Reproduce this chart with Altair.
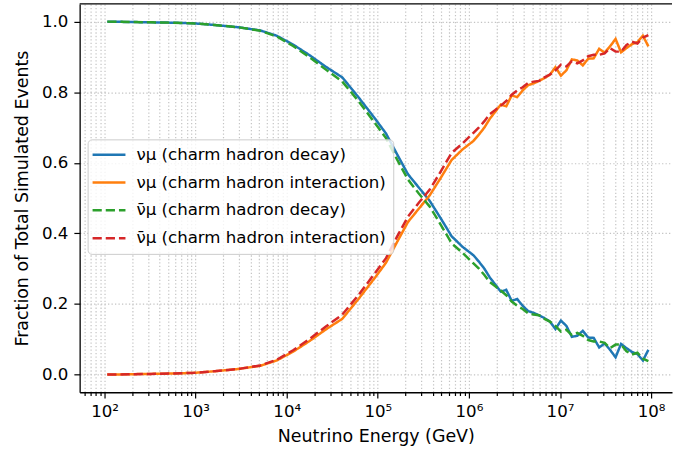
import altair as alt
import pandas as pd

# log10 of neutrino energy (GeV) at which the fractions are read
log_energy = [2.03, 2.27, 2.51, 2.75, 2.99, 3.23, 3.47, 3.71, 3.89, 4.07, 4.25, 4.43,
              4.61, 4.79, 4.97, 5.09, 5.21, 5.33, 5.45, 5.57, 5.69, 5.81, 5.93,
              6.05, 6.11, 6.17, 6.23, 6.29, 6.35, 6.41, 6.47, 6.53, 6.59, 6.65, 6.71,
              6.77, 6.83, 6.89, 6.95, 7.01, 7.07, 7.13, 7.19, 7.25, 7.31, 7.37, 7.43,
              7.49, 7.55, 7.61, 7.67, 7.73, 7.79, 7.85, 7.91, 7.97]

nu_decay = [1.000, 0.999, 0.998, 0.997, 0.995, 0.990, 0.984, 0.975, 0.960, 0.935, 0.905, 0.872,
            0.842, 0.785, 0.725, 0.683, 0.625, 0.568, 0.530, 0.492, 0.443, 0.392, 0.362,
            0.338, 0.320, 0.300, 0.275, 0.255, 0.235, 0.240, 0.209, 0.214, 0.195, 0.180, 0.175,
            0.168, 0.160, 0.150, 0.129, 0.153, 0.138, 0.107, 0.110, 0.124, 0.105, 0.104, 0.077,
            0.088, 0.070, 0.049, 0.087, 0.075, 0.064, 0.058, 0.040, 0.070]

nu_interaction = [0.000, 0.001, 0.002, 0.003, 0.005, 0.010, 0.016, 0.025, 0.040, 0.065, 0.095, 0.128,
                  0.158, 0.215, 0.275, 0.317, 0.375, 0.432, 0.470, 0.508, 0.557, 0.608, 0.638,
                  0.662, 0.680, 0.700, 0.725, 0.745, 0.765, 0.760, 0.791, 0.786, 0.805, 0.820, 0.825,
                  0.832, 0.840, 0.850, 0.871, 0.847, 0.862, 0.893, 0.890, 0.876, 0.895, 0.896, 0.923,
                  0.912, 0.930, 0.951, 0.913, 0.925, 0.936, 0.942, 0.960, 0.930]

nubar_decay = [1.000, 0.999, 0.998, 0.997, 0.995, 0.990, 0.984, 0.974, 0.958, 0.931, 0.899, 0.864,
               0.830, 0.774, 0.712, 0.670, 0.610, 0.553, 0.513, 0.476, 0.425, 0.372, 0.345,
               0.315, 0.300, 0.282, 0.262, 0.250, 0.238, 0.225, 0.207, 0.195, 0.186, 0.174, 0.170,
               0.168, 0.158, 0.150, 0.138, 0.122, 0.127, 0.112, 0.118, 0.110, 0.098, 0.094, 0.094,
               0.090, 0.075, 0.085, 0.085, 0.066, 0.057, 0.062, 0.045, 0.038]

nubar_interaction = [0.000, 0.001, 0.002, 0.003, 0.005, 0.010, 0.016, 0.026, 0.042, 0.069, 0.101, 0.136,
                     0.170, 0.226, 0.288, 0.330, 0.390, 0.447, 0.487, 0.524, 0.575, 0.628, 0.655,
                     0.685, 0.700, 0.718, 0.738, 0.750, 0.762, 0.775, 0.793, 0.805, 0.814, 0.826, 0.830,
                     0.832, 0.842, 0.850, 0.862, 0.878, 0.873, 0.888, 0.882, 0.890, 0.902, 0.906, 0.906,
                     0.910, 0.925, 0.915, 0.915, 0.934, 0.943, 0.938, 0.955, 0.962]

series_labels = ["νμ (charm hadron decay)", "νμ (charm hadron interaction)",
                 "ν̄μ (charm hadron decay)", "ν̄μ (charm hadron interaction)"]
series_colors = ["#1f77b4", "#ff7f0e", "#2ca02c", "#d62728"]
series_dashes = [[1, 0], [1, 0], [9.25, 4], [9.25, 4]]

y_ticks = [0.0, 0.2, 0.4, 0.6, 0.8, 1.0]
x_ticks = [60, 70, 80, 90] + [m * 10 ** e for e in range(2, 8) for m in range(1, 10)] + [10 ** 8]

rows = []
for label, vals in zip(series_labels, [nu_decay, nu_interaction, nubar_decay, nubar_interaction]):
    for L, v in zip(log_energy, vals):
        rows.append({"energy": 10 ** L, "fraction": v, "series": label})
df = pd.DataFrame(rows)

W, H = 595, 390
FONT = "DejaVu Sans"
FS = 16.7
TFS = 17.5
GRID = dict(grid=True, gridDash=[1.3, 2.2], gridColor="#c4c4c4", gridWidth=1.2)

major = "abs(log(datum.value)/LN10 - round(log(datum.value)/LN10)) < 0.001"
sup = "['⁰','¹','²','³','⁴','⁵','⁶','⁷','⁸','⁹']"

x_axis = alt.Axis(
    values=x_ticks,
    labelExpr=f"({major}) ? '10' + {sup}[round(log(datum.value)/LN10)] : ''",
    tickSize={"condition": {"test": major, "value": 5.8}, "value": 3.3},
    tickColor="black", tickWidth=1.2,
    domainColor="black", domainWidth=1.3,
    labelFont=FONT, labelFontSize=FS, labelColor="black", labelPadding=6,
    labelOverlap=False, labelFlush=False,
    title="Neutrino Energy (GeV)", titleFont=FONT, titleFontSize=TFS,
    titleFontWeight="normal", titleColor="black", titlePadding=7,
    **GRID,
)
y_axis = alt.Axis(
    values=y_ticks, format=".1f",
    tickSize=5.8, tickColor="black", tickWidth=1.2,
    domainColor="black", domainWidth=1.3,
    labelFont=FONT, labelFontSize=FS, labelColor="black", labelPadding=6,
    title="Fraction of Total Simulated Events", titleFont=FONT, titleFontSize=TFS,
    titleFontWeight="normal", titleColor="black", titlePadding=10,
    **GRID,
)

legend = alt.Legend(
    title=None, orient="none", legendX=8, legendY=136,
    symbolType="M-2.36,0H2.36", symbolSize=196, symbolStrokeWidth=2.5,
    symbolOffset=6, labelOffset=19, rowPadding=9.9, padding=7,
    fillColor="rgba(255,255,255,0.8)", strokeColor="#cccccc", cornerRadius=4,
    labelFont=FONT, labelFontSize=FS, labelColor="black", labelLimit=0,
    labelBaseline="middle",
)

lines = alt.Chart(df).mark_line(strokeWidth=2.5).encode(
    x=alt.X("energy:Q", scale=alt.Scale(type="log", domain=[10 ** 1.7268, 10 ** 8.2295], nice=False),
            axis=x_axis),
    y=alt.Y("fraction:Q", scale=alt.Scale(domain=[-0.05, 1.05], nice=False, zero=False), axis=y_axis),
    color=alt.Color("series:N", scale=alt.Scale(domain=series_labels, range=series_colors), legend=legend),
    strokeDash=alt.StrokeDash("series:N", scale=alt.Scale(domain=series_labels, range=series_dashes),
                              legend=legend),
)

top_spine = alt.Chart(pd.DataFrame({"spine": ["top"]})).mark_rule(
    color="black", strokeWidth=1.3
).encode(x=alt.value(0), x2=alt.value(W), y=alt.value(0))

chart = alt.layer(lines, top_spine).properties(
    width=W, height=H,
    padding={"left": 13, "top": 2, "right": 0, "bottom": 0},
    background="white",
).configure_view(stroke=None)

chart.save("out.html", embed_options={"renderer": "svg", "actions": False})
